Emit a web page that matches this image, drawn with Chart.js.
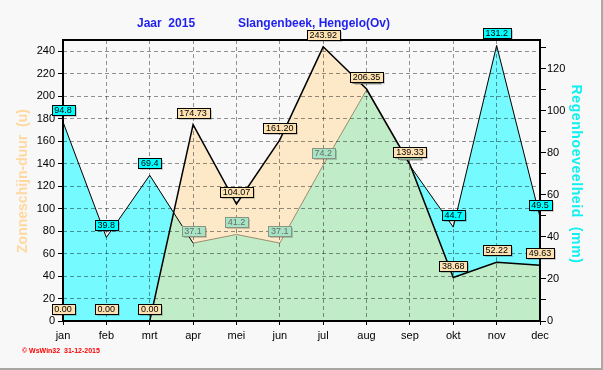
<!DOCTYPE html>
<html>
<head>
<meta charset="utf-8">
<script src="https://cdn.jsdelivr.net/npm/chart.js@4.4.1/dist/chart.umd.min.js"></script>
<style>
  html, body { margin: 0; padding: 0; background: #f8f8f8; }
</style>
</head>
<body>
<canvas id="myChart" width="603" height="370"></canvas>
<script>
const ctx = document.getElementById('myChart')

const months = ['jan', 'feb', 'mrt', 'apr', 'mei', 'jun', 'jul', 'aug', 'sep', 'okt', 'nov', 'dec']
const zonUren = [0, 0, 0, 174.73, 104.07, 161.20, 243.92, 206.35, 139.33, 38.68, 52.22, 49.63] // zonneschijn (u)
const regenMm = [94.8, 39.8, 69.4, 37.1, 41.2, 37.1, 74.2, 110.0, 74.0, 44.7, 131.2, 49.5]      // regen (mm)

const leftMax = 250    // linker as (uren)
const rightMax = 133.8 // rechter as (mm)

const beige = '#fde8c8'
const cyan = '#74faff'
const green = '#c0ecc8'

// achtergrond + rand van het plaatje
const background = {
  id: 'background',
  beforeDraw(chart) {
    const c = chart.ctx
    c.save()
    c.fillStyle = '#f8f8f8'
    c.fillRect(0, 0, chart.width, chart.height)
    c.fillStyle = '#a9a9a4'
    c.fillRect(0, 368, chart.width, 2)
    c.fillRect(601, 0, 2, chart.height)
    c.restore()
  }
}

function drawBox(c, x, y, txt, bg, border, col) {
  const w = Math.round(c.measureText(txt).width) + 5
  const h = 10
  const l = Math.round(x - w / 2) + 0.5
  const t = Math.round(y - h / 2) + 0.5
  c.fillStyle = 'rgba(0,0,0,0.18)'
  c.fillRect(l + 1.5, t + 1.5, w, h)
  c.fillStyle = bg
  c.fillRect(l, t, w, h)
  c.strokeStyle = border
  c.lineWidth = 1
  c.strokeRect(l, t, w, h)
  c.fillStyle = col
  c.fillText(txt, x, t + h / 2 + 0.5)
}

// waarde-labels, titels en kader
const extras = {
  id: 'extras',
  afterDraw(chart) {
    const c = chart.ctx
    const a = chart.chartArea
    const sun = chart.getDatasetMeta(0).data
    const rain = chart.getDatasetMeta(1).data

    c.save()
    c.strokeStyle = '#000'
    c.lineWidth = 2
    c.strokeRect(a.left, a.top, a.right - a.left, a.bottom - a.top)

    c.font = '9px Arial, "Liberation Sans"'
    c.textAlign = 'center'
    c.textBaseline = 'middle'
    rain.forEach((p, i) => {
      const under = p.y > sun[i].y - 3
      drawBox(c, p.x, p.y - 12, regenMm[i].toFixed(1),
        under ? '#a6e4c4' : '#00ffff', under ? '#8a9484' : '#000', under ? '#6a6a6a' : '#000')
    })
    sun.forEach((p, i) => {
      drawBox(c, p.x, p.y - 12, zonUren[i].toFixed(2), '#ffe2b2', '#000', '#000')
    })

    c.textAlign = 'left'
    c.fillStyle = '#1f1fef'
    c.font = 'bold 12px Arial, "Liberation Sans"'
    c.fillText('Jaar  2015', 137, 24)
    c.fillText('Slangenbeek, Hengelo(Ov)', 238, 24)

    c.fillStyle = '#ff0000'
    c.font = 'bold 7px Arial, "Liberation Sans"'
    c.fillText('\u00a9 WsWin32  31-12-2015', 22, 351)

    c.save()
    c.translate(23, 181)
    c.rotate(-Math.PI / 2)
    c.textAlign = 'center'
    c.fillStyle = '#ffd8a0'
    c.font = 'bold 14px Arial, "Liberation Sans"'
    c.fillText('Zonneschijn-duur  (u)', 0, 0)
    c.restore()

    c.save()
    c.translate(576, 174)
    c.rotate(Math.PI / 2)
    c.textAlign = 'center'
    c.fillStyle = '#10f0f0'
    c.font = 'bold 14px Arial, "Liberation Sans"'
    c.letterSpacing = '0.6px'
    c.fillText('Regenhoeveelheid  (mm)', 0, 0)
    c.restore()

    c.restore()
  }
}

const tickFont = { family: 'Arial, "Liberation Sans"', size: 11 }

const mychart = new Chart(ctx, {
  type: 'line',
  data: {
    labels: months,
    datasets: [{
      label: 'Zonneschijn-duur',
      data: zonUren,
      yAxisID: 'y',
      borderColor: '#000',
      borderWidth: 1.5,
      pointRadius: 0,
      tension: 0,
      fill: { target: 1, above: beige, below: cyan }
    }, {
      label: 'Regenhoeveelheid',
      data: regenMm,
      yAxisID: 'y1',
      borderColor: '#000',
      borderWidth: 1,
      pointRadius: 0,
      tension: 0,
      fill: { target: 'origin', above: green, below: green },
      segment: {
        borderColor: s => {
          const sun = s.chart.getDatasetMeta(0).data
          const up0 = s.p0.y < sun[s.p0DataIndex].y - 3
          const up1 = s.p1.y < sun[s.p1DataIndex].y - 3
          return (up0 || up1) ? '#000' : '#a08c6c'
        }
      }
    }]
  },
  options: {
    responsive: false,
    animation: false,
    devicePixelRatio: 1,
    layout: { padding: { top: 40 } },
    plugins: {
      legend: { display: false },
      tooltip: { enabled: false },
      filler: { drawTime: 'beforeDatasetsDraw' }
    },
    scales: {
      x: {
        offset: false,
        afterFit: s => { s.height = 49 },
        grid: { z: 1, color: 'rgba(0,0,0,0.42)', offset: false, tickLength: 4, tickColor: '#000', tickBorderDash: [] },
        border: { display: false, dash: [4, 3] },
        ticks: { color: '#000', font: tickFont, padding: 4, autoSkip: false, maxRotation: 0 }
      },
      y: {
        position: 'left',
        min: 0,
        max: leftMax,
        afterFit: s => { s.width = 63 },
        grid: { z: 1, color: 'rgba(0,0,0,0.42)', tickLength: 5, tickColor: '#000', tickBorderDash: [] },
        border: { display: false, dash: [4, 3] },
        ticks: { stepSize: 20, includeBounds: false, color: '#000', font: tickFont, padding: 3 }
      },
      y1: {
        position: 'right',
        min: 0,
        max: rightMax,
        afterFit: s => { s.width = 63 },
        grid: { drawOnChartArea: false, tickLength: 6, tickColor: '#000' },
        border: { display: false },
        ticks: {
          stepSize: 10, includeBounds: false, autoSkip: false, color: '#000', font: tickFont, padding: 1,
          callback: v => (v % 20 === 0 ? v : '')
        }
      }
    }
  },
  plugins: [background, extras]
})
</script>
</body>
</html>
